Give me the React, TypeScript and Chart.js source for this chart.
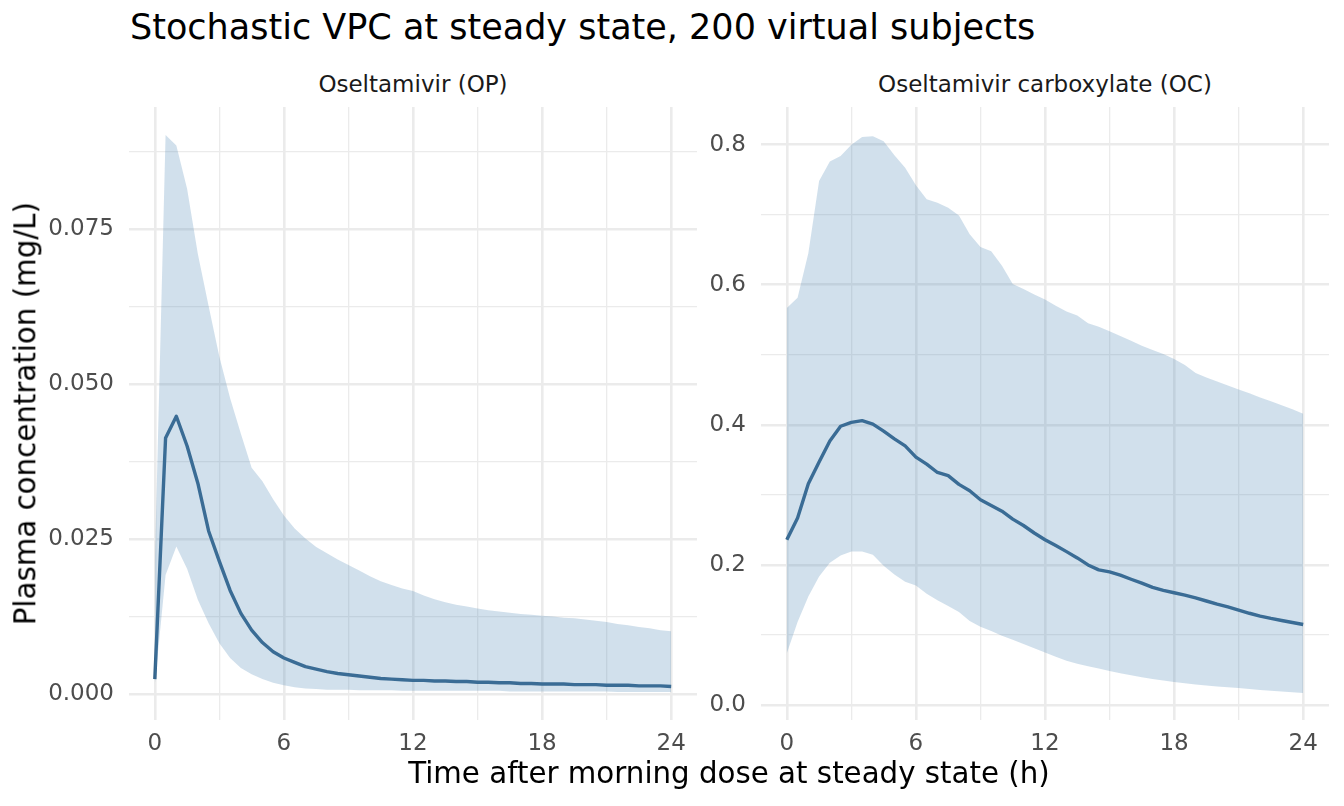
import React, { useEffect, useRef } from "react";
import { Chart, registerables } from "chart.js";

Chart.register(...registerables);

// Sampling times (h after the morning dose)
const hours = [
  0, 0.5, 1, 1.5, 2, 2.5, 3, 3.5, 4, 4.5, 5, 5.5, 6, 6.5, 7, 7.5, 8, 8.5, 9, 9.5,
  10, 10.5, 11, 11.5, 12, 12.5, 13, 13.5, 14, 14.5, 15, 15.5, 16, 16.5, 17, 17.5,
  18, 18.5, 19, 19.5, 20, 20.5, 21, 21.5, 22, 22.5, 23, 23.5, 24,
];

// Oseltamivir (OP), mg/L: 5th percentile, median, 95th percentile
const opLower = [
  0.0015, 0.0192, 0.0238, 0.0202, 0.0152, 0.0114, 0.0082, 0.0058, 0.0042, 0.0032,
  0.0024, 0.0018, 0.0014, 0.0011, 0.0009, 0.0008, 0.0007, 0.0007, 0.0007, 0.0006,
  0.0006, 0.0006, 0.0006, 0.0005, 0.0005, 0.0005, 0.0005, 0.0005, 0.0005, 0.0005,
  0.0005, 0.0005, 0.0005, 0.0004, 0.0004, 0.0004, 0.0004, 0.0004, 0.0004, 0.0004,
  0.0004, 0.0004, 0.0004, 0.0003, 0.0003, 0.0003, 0.0003, 0.0003, 0.0003,
];
const opMedian = [
  0.0024, 0.0413, 0.0448, 0.04, 0.034, 0.0263, 0.0214, 0.0167, 0.013, 0.0103,
  0.0083, 0.0068, 0.0058, 0.0051, 0.0044, 0.004, 0.0036, 0.0033, 0.0031, 0.0029,
  0.0027, 0.0025, 0.0024, 0.0023, 0.0022, 0.0022, 0.0021, 0.0021, 0.002, 0.002,
  0.0019, 0.0019, 0.0018, 0.0018, 0.0017, 0.0017, 0.0016, 0.0016, 0.0016, 0.0015,
  0.0015, 0.0015, 0.0014, 0.0014, 0.0014, 0.0013, 0.0013, 0.0013, 0.0012,
];
const opUpper = [
  0.021, 0.0902, 0.0885, 0.0815, 0.071, 0.0626, 0.0544, 0.0477, 0.042, 0.0365,
  0.0343, 0.0314, 0.0288, 0.0267, 0.0251, 0.0237, 0.0227, 0.0217, 0.0208, 0.0199,
  0.019, 0.0182, 0.0176, 0.017, 0.0166, 0.0159, 0.0153, 0.0148, 0.0144, 0.0141,
  0.0138, 0.0135, 0.0133, 0.0131, 0.0129, 0.0128, 0.0126, 0.0125, 0.0123, 0.0122,
  0.012, 0.0118, 0.0116, 0.0113, 0.0111, 0.0108, 0.0106, 0.0103, 0.0101,
];

// Oseltamivir carboxylate (OC), mg/L
const ocLower = [
  0.074, 0.1185, 0.155, 0.1835, 0.203, 0.2134, 0.219, 0.219, 0.2146, 0.1987,
  0.1863, 0.176, 0.1705, 0.159, 0.1496, 0.1413, 0.1328, 0.12, 0.1118, 0.1056,
  0.0988, 0.0932, 0.087, 0.081, 0.0751, 0.069, 0.0632, 0.059, 0.0554, 0.052,
  0.0486, 0.0455, 0.0424, 0.0398, 0.0373, 0.035, 0.0328, 0.031, 0.0294, 0.028,
  0.0265, 0.0254, 0.0243, 0.0228, 0.0214, 0.0203, 0.0192, 0.0181, 0.0171,
];
const ocMedian = [
  0.236, 0.267, 0.316, 0.347, 0.377, 0.398, 0.4036, 0.406, 0.401, 0.391,
  0.38, 0.37, 0.354, 0.344, 0.332, 0.3275, 0.315, 0.306, 0.293, 0.285,
  0.2767, 0.2654, 0.2563, 0.2456, 0.236, 0.2276, 0.219, 0.21, 0.2, 0.193,
  0.19, 0.1855, 0.1796, 0.174, 0.168, 0.1638, 0.1603, 0.157, 0.153, 0.1485,
  0.144, 0.14, 0.1356, 0.131, 0.127, 0.1236, 0.1206, 0.1178, 0.115,
];
const ocUpper = [
  0.567, 0.5815, 0.645, 0.748, 0.776, 0.784, 0.8, 0.811, 0.812, 0.805,
  0.785, 0.767, 0.742, 0.722, 0.717, 0.71, 0.699, 0.672, 0.654, 0.648,
  0.627, 0.601, 0.594, 0.586, 0.579, 0.57, 0.562, 0.556, 0.545, 0.54,
  0.5335, 0.527, 0.52, 0.513, 0.507, 0.501, 0.494, 0.4855, 0.474, 0.4675,
  0.462, 0.456, 0.4506, 0.445, 0.439, 0.4336, 0.428, 0.4223, 0.416,
];

// Axis breaks (major ones carry a label, minor ones are blank)
const timeTicks = [0, 3, 6, 9, 12, 15, 18, 21, 24];
const timeLabels = ["0", "", "6", "", "12", "", "18", "", "24"];
const opTicks = [0, 0.0125, 0.025, 0.0375, 0.05, 0.0625, 0.075, 0.0875];
const opLabels = ["0.000", "", "0.025", "", "0.050", "", "0.075", ""];
const ocTicks = [0, 0.1, 0.2, 0.3, 0.4, 0.5, 0.6, 0.7, 0.8];
const ocLabels = ["0.0", "", "0.2", "", "0.4", "", "0.6", "", "0.8"];

const FONT = "'DejaVu Sans', sans-serif";
const RIBBON = "rgba(70,130,180,0.25)";
const MEDIAN = "#36648B";
const GRID = "#ebebeb";

const CANVAS_TOP = 87;
const CANVAS_H = 719;

type PanelSpec = {
  lower: number[];
  median: number[];
  upper: number[];
  yMin: number;
  yMax: number;
  yTicks: number[];
  yLabels: string[];
  left: number;
  width: number;
  axisWidth: number;
  padRight: number;
};

const points = (vals: number[]) => hours.map((h, i) => ({ x: h, y: vals[i] }));

function buildConfig(p: PanelSpec): any {
  const gridFor = (labels: string[]) => ({
    drawTicks: false,
    color: GRID,
    lineWidth: (ctx: any) => (labels[ctx.index] ? 2.6 : 1.3),
  });
  return {
    type: "line",
    data: {
      datasets: [
        {
          label: "5th percentile",
          data: points(p.lower),
          borderColor: "rgba(0,0,0,0)",
          borderWidth: 0,
          pointRadius: 0,
          fill: false,
        },
        {
          label: "95th percentile",
          data: points(p.upper),
          borderColor: "rgba(0,0,0,0)",
          borderWidth: 0,
          pointRadius: 0,
          backgroundColor: RIBBON,
          fill: "-1",
        },
        {
          label: "Median",
          data: points(p.median),
          borderColor: MEDIAN,
          borderWidth: 3.4,
          pointRadius: 0,
          fill: false,
          borderJoinStyle: "round",
          borderCapStyle: "butt",
        },
      ],
    },
    options: {
      responsive: false,
      animation: false,
      events: [],
      layout: { padding: { top: 20, right: p.padRight, bottom: 0, left: 0 } },
      plugins: { legend: { display: false }, tooltip: { enabled: false } },
      scales: {
        x: {
          type: "linear",
          min: -1.2,
          max: 25.2,
          afterBuildTicks: (s: any) => {
            s.ticks = timeTicks.map((v) => ({ value: v }));
          },
          afterFit: (s: any) => {
            s.height = 86;
            s.paddingLeft = 0;
            s.paddingRight = 0;
          },
          grid: gridFor(timeLabels),
          border: { display: false },
          ticks: {
            autoSkip: false,
            maxRotation: 0,
            padding: 10,
            color: "#4d4d4d",
            font: { family: FONT, size: 23 },
            callback: (_v: any, i: number) => timeLabels[i],
          },
        },
        y: {
          type: "linear",
          min: p.yMin,
          max: p.yMax,
          afterBuildTicks: (s: any) => {
            s.ticks = p.yTicks.map((v) => ({ value: v }));
          },
          afterFit: (s: any) => {
            s.width = p.axisWidth;
            s.paddingTop = 0;
            s.paddingBottom = 0;
          },
          grid: gridFor(p.yLabels),
          border: { display: false },
          ticks: {
            autoSkip: false,
            padding: 15,
            color: "#4d4d4d",
            font: { family: FONT, size: 23 },
            callback: (_v: any, i: number) => p.yLabels[i],
          },
        },
      },
    },
  };
}

const panels: PanelSpec[] = [
  {
    lower: opLower,
    median: opMedian,
    upper: opUpper,
    yMin: -0.0042,
    yMax: 0.0947,
    yTicks: opTicks,
    yLabels: opLabels,
    left: 0,
    width: 717,
    axisWidth: 129,
    padRight: 20,
  },
  {
    lower: ocLower,
    median: ocMedian,
    upper: ocUpper,
    yMin: -0.0214,
    yMax: 0.8538,
    yTicks: ocTicks,
    yLabels: ocLabels,
    left: 700,
    width: 644,
    axisWidth: 61,
    padRight: 15,
  },
];

function Panel({ spec }: { spec: PanelSpec }) {
  const ref = useRef<HTMLCanvasElement>(null);
  useEffect(() => {
    if (!ref.current) return;
    const chart = new Chart(ref.current, buildConfig(spec));
    return () => chart.destroy();
  }, [spec]);
  return (
    <canvas
      ref={ref}
      width={spec.width}
      height={CANVAS_H}
      style={{
        position: "absolute",
        left: spec.left,
        top: CANVAS_TOP,
        width: spec.width,
        height: CANVAS_H,
      }}
    />
  );
}

const textBase: React.CSSProperties = {
  position: "absolute",
  fontFamily: FONT,
  lineHeight: 1,
  whiteSpace: "nowrap",
  margin: 0,
};

export default function App() {
  return (
    <div
      style={{
        position: "absolute",
        left: 0,
        top: 0,
        width: 1344,
        height: 806,
        background: "#ffffff",
        overflow: "hidden",
      }}
    >
      <div style={{ ...textBase, left: 130, top: 10.4, fontSize: 35, color: "#000" }}>
        Stochastic VPC at steady state, 200 virtual subjects
      </div>
      <div
        style={{
          ...textBase,
          left: 129,
          width: 568,
          top: 73,
          fontSize: 23,
          color: "#1a1a1a",
          textAlign: "center",
        }}
      >
        Oseltamivir (OP)
      </div>
      <div
        style={{
          ...textBase,
          left: 761,
          width: 568,
          top: 73,
          fontSize: 23,
          color: "#1a1a1a",
          textAlign: "center",
        }}
      >
        Oseltamivir carboxylate (OC)
      </div>
      {panels.map((p, i) => (
        <Panel key={i} spec={p} />
      ))}
      <div
        style={{
          ...textBase,
          left: 129,
          width: 1200,
          top: 759.2,
          fontSize: 29.3,
          color: "#000",
          textAlign: "center",
        }}
      >
        Time after morning dose at steady state (h)
      </div>
      <div
        style={{
          ...textBase,
          left: 26.3 - 300,
          top: 413.5 - 29.3 / 2,
          width: 600,
          height: 29.3,
          fontSize: 29.3,
          color: "#000",
          textAlign: "center",
          transform: "rotate(-90deg)",
          transformOrigin: "50% 50%",
        }}
      >
        Plasma concentration (mg/L)
      </div>
    </div>
  );
}
